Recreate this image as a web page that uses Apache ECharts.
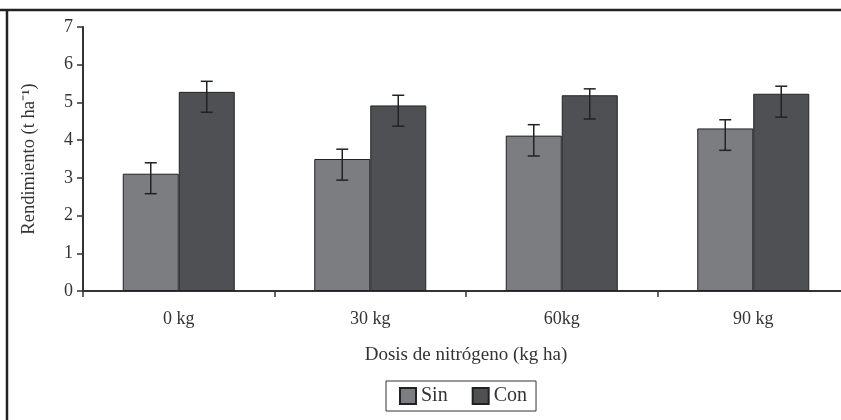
<!DOCTYPE html>
<html><head><meta charset="utf-8">
<script src="https://cdn.jsdelivr.net/npm/echarts@6/dist/echarts.min.js"></script>
<style>html,body{margin:0;padding:0;background:#fff}#c{width:841px;height:420px}</style>
</head><body><div id="c"></div>
<script>
const categories = ['0 kg', '30 kg', '60kg', '90 kg'];
const sinValues = [3.11, 3.50, 4.12, 4.31];
const sinLow = [2.58, 2.94, 3.58, 3.73];
const sinHigh = [3.40, 3.76, 4.41, 4.54];
const conValues = [5.28, 4.92, 5.19, 5.23];
const conLow = [4.74, 4.37, 4.56, 4.61];
const conHigh = [5.56, 5.19, 5.36, 5.43];
const yTicks = [0, 1, 2, 3, 4, 5, 6, 7];

const chart = echarts.init(document.getElementById('c'), null, {renderer: 'canvas'});
const font = 'Liberation Serif';
const BW = 56;

function errData(low, high) {
  return categories.map((c, i) => [i, low[i], high[i]]);
}
function errSeries(name, low, high, offset) {
  return {
    type: 'custom', name: name + '_err', z: 10, silent: true,
    data: errData(low, high),
    renderItem: function (params, api) {
      const lo = api.coord([api.value(0), api.value(1)]);
      const hi = api.coord([api.value(0), api.value(2)]);
      const x = lo[0] + offset;
      const cap = 6;
      const st = {stroke: '#222', lineWidth: 1.5};
      return {type: 'group', children: [
        {type: 'line', shape: {x1: x, y1: lo[1], x2: x, y2: hi[1]}, style: st},
        {type: 'line', shape: {x1: x - cap, y1: lo[1], x2: x + cap, y2: lo[1]}, style: st},
        {type: 'line', shape: {x1: x - cap, y1: hi[1], x2: x + cap, y2: hi[1]}, style: st}
      ]};
    }
  };
}

chart.setOption({
  animation: false,
  backgroundColor: '#fff',
  grid: {left: 83, width: 766, top: 27, height: 264, outerBoundsMode: 'none', containLabel: false},
  legend: {
    data: [{name: 'Sin'}, {name: 'Con'}],
    left: 386, top: 381,
    itemWidth: 16, itemHeight: 16, itemGap: 24,
    padding: [5, 9, 5, 13],
    borderColor: '#333', borderWidth: 1,
    icon: 'rect',
    textStyle: {fontFamily: font, fontSize: 20, color: '#333'}
  },
  xAxis: {
    type: 'category', data: categories,
    name: 'Dosis de nitrógeno (kg ha)', nameLocation: 'middle', nameGap: 55,
    nameTextStyle: {fontFamily: font, fontSize: 19, color: '#333'},
    axisLine: {lineStyle: {color: '#333', width: 2}},
    axisTick: {show: true, length: 6, lineStyle: {color: '#333', width: 1.5}},
    axisLabel: {fontFamily: font, fontSize: 18, color: '#333', margin: 19}
  },
  yAxis: {
    type: 'value', min: yTicks[0], max: yTicks[yTicks.length - 1], interval: 1,
    name: 'Rendimiento (t ha⁻¹)', nameLocation: 'middle', nameGap: 44,
    nameTextStyle: {fontFamily: font, fontSize: 18.5, color: '#333'},
    axisLine: {show: true, lineStyle: {color: '#333', width: 2}},
    axisTick: {show: true, length: 6, lineStyle: {color: '#333', width: 1.5}},
    axisLabel: {fontFamily: font, fontSize: 18, color: '#333', margin: 10},
    splitLine: {show: false}
  },
  series: [
    {name: 'Sin', type: 'bar', data: sinValues, barWidth: BW, barGap: '0%',
     itemStyle: {color: '#7c7d81', borderColor: '#222', borderWidth: 1}},
    {name: 'Con', type: 'bar', data: conValues, barWidth: BW, barGap: '0%',
     itemStyle: {color: '#4f5053', borderColor: '#222', borderWidth: 1}},
    errSeries('Sin', sinLow, sinHigh, -BW / 2),
    errSeries('Con', conLow, conHigh, BW / 2)
  ],
  graphic: [
    {type: 'line', shape: {x1: 0, y1: 10, x2: 841, y2: 10}, style: {stroke: '#222', lineWidth: 2.5}},
    {type: 'line', shape: {x1: 7, y1: 10, x2: 7, y2: 420}, style: {stroke: '#222', lineWidth: 2.5}}
  ]
});
</script>
</body></html>
